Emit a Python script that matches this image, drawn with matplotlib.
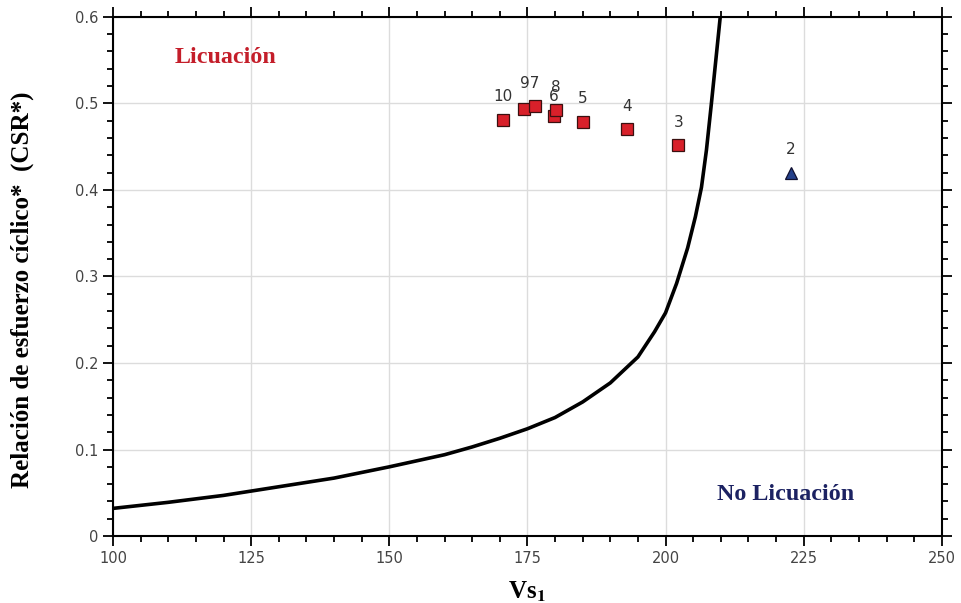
import numpy as np
import matplotlib.pyplot as plt
from matplotlib.ticker import MultipleLocator

plt.rcParams['mathtext.fontset'] = 'stix'

# limit curve (Vs1, CSR)
curve_vs = [100, 110, 120, 130, 140, 150, 160, 165, 170, 175, 180, 185, 190, 195,
            198, 200, 202, 204, 205.4, 206.5, 207.4, 208.3, 209.1, 209.9]
curve_csr = [0.032, 0.039, 0.047, 0.057, 0.067, 0.080, 0.094, 0.103, 0.113, 0.124,
             0.137, 0.155, 0.177, 0.207, 0.236, 0.258, 0.292, 0.333, 0.369, 0.403,
             0.446, 0.50, 0.55, 0.60]

# liquefied sites
liq_id = ['10', '9', '7', '6', '8', '5', '4', '3']
liq_vs = [170.5, 174.4, 176.4, 179.8, 180.1, 185.0, 193.1, 202.3]
liq_csr = [0.481, 0.494, 0.497, 0.485, 0.492, 0.479, 0.470, 0.452]

# non liquefied
noliq_id = ['2']
noliq_vs = [222.7]
noliq_csr = [0.420]

fig = plt.figure(figsize=(9.62, 6.03), dpi=100)
ax = fig.add_axes([0.1175, 0.111, 0.8615, 0.861])

ax.plot(curve_vs, curve_csr, color='black', lw=2.6, zorder=2)
ax.plot(liq_vs, liq_csr, 's', ms=9, mfc='#d8202a', mec='#3a1010', mew=0.9, zorder=3)
ax.plot(noliq_vs, noliq_csr, '^', ms=8, mfc='#24408a', mec='#101030', mew=0.9, zorder=3)

lab_font = dict(fontsize=11, color='#333333', ha='center', va='center', family='DejaVu Sans')
offs = {'10': 16.5, '6': 14, '8': 16.5, '5': 16.5, '4': 16.5, '3': 16.5}
for i, x, y in zip(liq_id, liq_vs, liq_csr):
    if i in ('9', '7'):
        continue
    ax.annotate(i, (x, y), xytext=(0, offs[i]), textcoords='offset points', **lab_font)
ax.annotate('97', (175.4, 0.4955), xytext=(0, 17.5), textcoords='offset points', **lab_font)
for i, x, y in zip(noliq_id, noliq_vs, noliq_csr):
    ax.annotate(i, (x, y), xytext=(0, 16.5), textcoords='offset points', **lab_font)

ax.text(120.3, 0.553, 'Licuación', color='#c41e2a', fontsize=17.3, fontweight='bold',
        family='Liberation Serif', ha='center', va='center')
ax.text(221.7, 0.048, 'No Licuación', color='#1c2262', fontsize=17.3, fontweight='bold',
        family='Liberation Serif', ha='center', va='center')

ax.set_xlim(100, 250)
ax.set_ylim(0, 0.6)
ax.xaxis.set_major_locator(MultipleLocator(25))
ax.xaxis.set_minor_locator(MultipleLocator(5))
ax.yaxis.set_minor_locator(MultipleLocator(0.02))
ax.set_yticks(np.arange(0, 0.61, 0.1))
ax.set_yticklabels(['0', '0.1', '0.2', '0.3', '0.4', '0.5', '0.6'])

ax.grid(True, which='major', color='#dcdcdc', lw=1)
ax.set_axisbelow(True)
for s in ax.spines.values():
    s.set_linewidth(1.5)
ax.tick_params(which='both', direction='out', top=True, right=True,
               width=1.3, labelsize=10.5, labelcolor='#444444')
ax.tick_params(which='major', length=7)
ax.tick_params(which='minor', length=4.5)

ax.set_xlabel('Vs$_\\mathbf{1}$', fontsize=18, fontweight='bold', family='Liberation Serif', labelpad=10)
ax.set_ylabel('Relación de esfuerzo cíclico*  (CSR*)', fontsize=18, fontweight='bold',
              family='Liberation Serif')
ax.yaxis.set_label_coords(-0.095, 0.475)

fig.savefig('out.png', dpi=100)
